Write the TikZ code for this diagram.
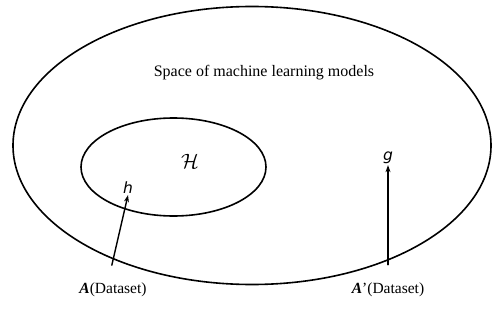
\documentclass[tikz,border=0pt]{standalone}
\usepackage{fontspec}
\setmainfont{Liberation Serif}
\newfontfamily\letterfont{DejaVu Sans}
\usetikzlibrary{arrows.meta}

\begin{document}
\begin{tikzpicture}[
  x=1pt, y=-1pt,
  line cap=round,
  line join=round,
  every node/.style={inner sep=1pt},
  setline/.style={line width=1.6pt},
  pointer/.style={line width=1.4pt, shorten <=17pt, -{Stealth[length=7pt,width=5pt]}},
  letter/.style={font=\letterfont\itshape\fontsize{15.5}{18}\selectfont},
  algo/.style={font=\fontsize{15.5}{18}\selectfont}
]
  \useasboundingbox (0,0) rectangle (492,326);

  % Пространство моделей
  \draw[setline] (252,145.5) ellipse [x radius=239, y radius=139];
  \node[font=\fontsize{16}{18}\selectfont] (space) at (264,73) {Space of machine learning models};

  % Класс гипотез
  \draw[setline] (173.5,167) ellipse [x radius=92.5, y radius=49];
  \node[font=\fontsize{21}{24}\selectfont] (H) at (190,161) {$\mathcal{H}$};

  % Точки
  \node[letter] (h) at (128,188) {h};
  \node[letter] (g) at (388,158) {g};

  % Подписи алгоритмов
  \node[algo] (A) at (113,290) {\textbf{\textit{A}}(Dataset)};
  \node[algo] (A2) at (388,290) {\textbf{\textit{A}}'(Dataset)};

  % Стрелки
  \draw[pointer] (A.north) ++(-5,0) -- (h.south);
  \draw[pointer] (A2.north) -- (g.south);
\end{tikzpicture}
\end{document}
